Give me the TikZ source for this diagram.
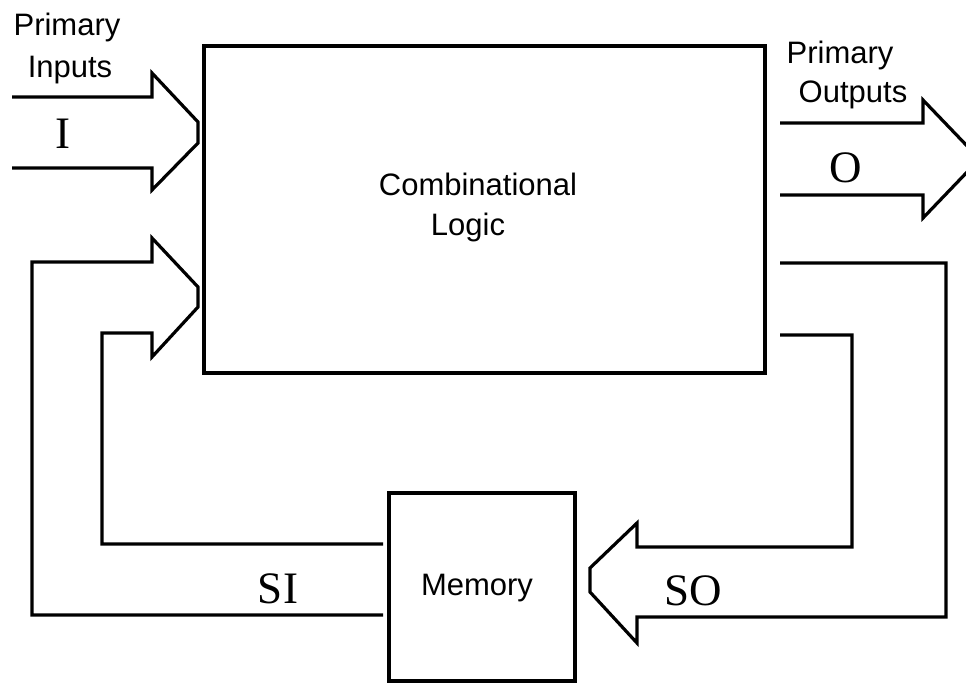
\documentclass[tikz,border=0pt]{standalone}
\usepackage{fontspec}
\setmainfont{Liberation Serif}
\newfontfamily\helv{Liberation Sans}
\begin{document}
\begin{tikzpicture}[x=1pt,y=-1pt,
  line width=3.2pt, line join=miter,
  blockbox/.style={draw, line width=3.2pt, inner sep=0pt, outer sep=0pt},
  sanslabel/.style={font=\helv\fontsize{31}{38}\selectfont, inner sep=0pt, anchor=base},
  signame/.style={font=\fontsize{45}{50}\selectfont, inner sep=0pt, anchor=base},
  busline/.style={draw, line width=3.2pt, line join=miter}]
\useasboundingbox (0,0) rectangle (966,683);
\clip (0,0) rectangle (966,683);

% blocks
\node[blockbox, minimum width=561pt, minimum height=327pt] (cl) at (484.5,209.5) {};
\node[blockbox, minimum width=186pt, minimum height=188pt] (mem) at (482,587) {};

\node[sanslabel] (cltxt1) at (478,195) {Combinational};
\node[sanslabel] (cltxt2) at (468,235) {Logic};
\node[sanslabel] (memtxt) at (477,595) {Memory};

% named end points of the buses
\coordinate (inL1) at (12,97);   \coordinate (inL2) at (12,168);
\coordinate (siE1) at (383,615); \coordinate (siE2) at (383,544);
\coordinate (outS1) at (780,123); \coordinate (outS2) at (780,195);
\coordinate (soS1) at (780,263); \coordinate (soS2) at (780,335);

% primary inputs I
\path[busline] (inL1) -- (152,97) -- (152,73) -- (198,122) -- (198,143)
  -- (152,190) -- (152,168) -- (inL2);

% state inputs SI from memory
\path[busline] (siE1) -- (32,615) -- (32,262) -- (152,262) -- (152,238)
  -- (198,287) -- (198,307) -- (152,357) -- (152,333) -- (102,333)
  -- (102,544) -- (siE2);

% primary outputs O
\path[busline] (outS1) -- (923,123) -- (923,100) -- (970,149) -- (970,169)
  -- (923,218) -- (923,195) -- (outS2);

% state outputs SO to memory
\path[busline] (soS1) -- (946,263) -- (946,617) -- (637,617) -- (637,643)
  -- (590,592) -- (590,568) -- (637,523) -- (637,547) -- (852,547)
  -- (852,335) -- (soS2);

% labels
\node[sanslabel] (pi1) at (67,35) {Primary};
\node[sanslabel] (pi2) at (70,77) {Inputs};
\node[sanslabel] (po1) at (840,63) {Primary};
\node[sanslabel] (po2) at (853,102) {Outputs};

\node[signame] (lI) at (63,148) {I};
\node[signame] (lO) at (846,182) {O};
\node[signame] (lSI) at (278,603) {SI};
\node[signame] (lSO) at (693,605) {SO};
\end{tikzpicture}
\end{document}
